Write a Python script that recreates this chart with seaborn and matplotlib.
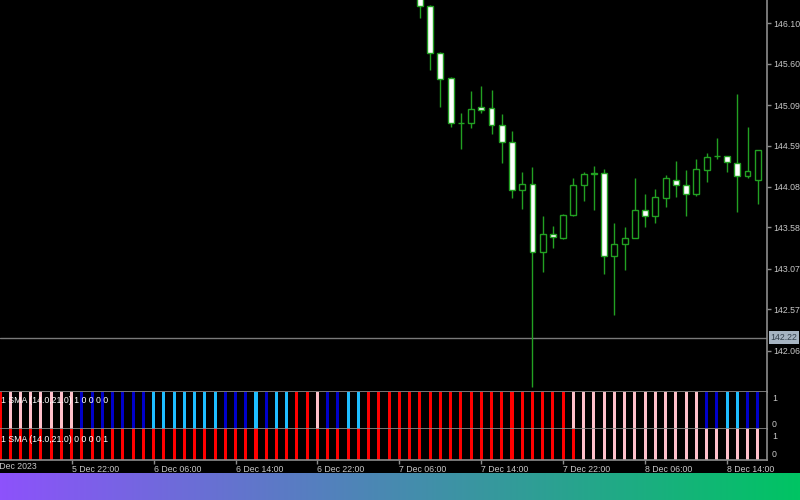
import numpy as np
import pandas as pd
import matplotlib
matplotlib.use("Agg")
import matplotlib.pyplot as plt
import matplotlib.transforms as mtransforms
import seaborn as sns

# H1 candles, bar 0 = 5 Dec 2023 15:00, only bars 41..74 are inside the price window
first_candle = 41
opens = [146.57, 146.31, 145.73, 145.42, 144.87, 144.87, 145.07, 145.05, 144.85, 144.64,
         144.04, 144.11, 143.28, 143.50, 143.45, 143.73, 144.10, 144.245, 144.25, 143.23,
         143.37, 143.45, 143.79, 143.72, 143.94, 144.17, 144.10, 143.99, 144.29, 144.46,
         144.46, 144.38, 144.21, 144.17]
highs = [146.65, 146.33, 145.74, 145.44, 144.99, 145.26, 145.33, 145.28, 144.98, 144.77,
         144.27, 144.33, 143.72, 143.60, 143.74, 144.19, 144.27, 144.34, 144.30, 143.64,
         143.58, 144.19, 143.99, 144.06, 144.23, 144.40, 144.29, 144.42, 144.50, 144.68,
         144.465, 145.23, 144.82, 144.53]
lows = [146.17, 145.52, 145.07, 144.82, 144.55, 144.81, 144.99, 144.73, 144.38, 143.94,
        143.81, 141.61, 143.03, 143.33, 143.44, 143.72, 143.90, 143.80, 143.00, 142.50,
        143.06, 143.45, 143.59, 143.63, 143.83, 143.96, 143.72, 143.97, 144.14, 144.43,
        144.26, 143.77, 144.19, 143.87]
closes = [146.31, 145.73, 145.41, 144.87, 144.865, 145.04, 145.03, 144.84, 144.64, 144.04,
          144.11, 143.28, 143.50, 143.46, 143.73, 144.10, 144.24, 144.25, 143.23, 143.38,
          143.45, 143.80, 143.72, 143.95, 144.19, 144.10, 143.99, 144.30, 144.45, 144.465,
          144.39, 144.21, 144.28, 144.53]

price_ticks = [146.10, 145.60, 145.09, 144.59, 144.08, 143.58, 143.07, 142.57, 142.06]
hline_price = 142.22

# indicator states per bar (R red, P pink, B blue, C light blue)
pane1_states = list("R" + "P" * 7 + "B" * 7 + "C" * 7 + "BBB" + "C" + "B" + "CC" + "RR" + "P"
                    + "BB" + "CC" + "R" * 20 + "P" * 13 + "BB" + "CC" + "BB")
pane2_states = list("R" * 57 + "P" * 18)
pane1_label = "1 SMA (14.0,21.0) 1 0 0 0 0"
pane2_label = "1 SMA (14.0,21.0) 0 0 0 0 1"

time_ticks = [7, 15, 23, 31, 39, 47, 55, 63, 71]
time_labels = ["5 Dec 22:00", "6 Dec 06:00", "6 Dec 14:00", "6 Dec 22:00", "7 Dec 06:00",
               "7 Dec 14:00", "7 Dec 22:00", "8 Dec 06:00", "8 Dec 14:00"]

state_colors = {"R": "#ff0000", "P": "#ffc0cb", "B": "#0000c8", "C": "#1ebeff"}

sns.set_style("dark", {"axes.facecolor": "black", "figure.facecolor": "black",
                       "axes.grid": False})
plt.rcParams["font.family"] = ["Liberation Sans", "DejaVu Sans"]

grey = "#8c8c8c"
txt = "#c8c8c8"
green = "#22a022"
fs = 6.3

fig = plt.figure(figsize=(8, 5), dpi=100)
W, H = 800.0, 500.0
axis_x = 767.3
main_bottom, p1_bottom, p2_bottom = 391.7, 429.3, 459.7

ax = fig.add_axes([0, 1 - main_bottom / H, axis_x / W, main_bottom / H])
ax1 = fig.add_axes([0, 1 - p1_bottom / H, axis_x / W, (p1_bottom - main_bottom) / H])
ax2 = fig.add_axes([0, 1 - p2_bottom / H, axis_x / W, (p2_bottom - p1_bottom) / H])

n_bars = len(pane1_states)
xmax = axis_x / 10.24

# candles
df = pd.DataFrame({"o": opens, "h": highs, "l": lows, "c": closes})
df["x"] = np.arange(first_candle, first_candle + len(df))
ax.vlines(df["x"], df["l"], df["h"], color=green, lw=1, zorder=2)
bull = df["c"] > df["o"]
body_lo = df[["o", "c"]].min(axis=1)
body_h = (df["c"] - df["o"]).abs().clip(lower=0.004)
ax.bar(df["x"], body_h, bottom=body_lo, width=0.58,
       color=np.where(bull, "black", "white"), edgecolor=green, linewidth=1, zorder=3)

ax.axhline(hline_price, color="#7a7a7a", lw=1, zorder=1)
ax.set_xlim(0, xmax)
ax.set_ylim(146.10 - (main_bottom - 23.3) / 81.0, 146.10 + 23.3 / 81.0)
ax.yaxis.tick_right()
ax.set_yticks(price_ticks)
ax.set_yticklabels([f"{v:.2f}" for v in price_ticks])
ax.tick_params(axis="y", colors=grey, labelcolor=txt, length=3, width=1, pad=1,
               labelsize=fs, direction="out", right=True, left=False)
ax.set_xticks([])
tr = mtransforms.blended_transform_factory(ax.transAxes, ax.transData)
ax.text(1.004, hline_price, f"{hline_price:.2f}", transform=tr, fontsize=fs,
        color="#33404c", va="center", ha="left",
        bbox=dict(facecolor="#a6b4c2", edgecolor="none", pad=1.2), zorder=5)

# indicator panes
for a, states, label in [(ax1, pane1_states, pane1_label), (ax2, pane2_states, pane2_label)]:
    d = pd.DataFrame({"bar": np.arange(n_bars), "value": 1.0, "state": states})
    sns.barplot(data=d, x="bar", y="value", hue="state", palette=state_colors,
                native_scale=True, dodge=False, width=0.3, saturation=1,
                errorbar=None, linewidth=0, legend=False, ax=a)
    a.set_xlim(0, xmax)
    a.set_ylim(0, 1)
    a.set_xlabel("")
    a.set_ylabel("")
    a.set_yticks([])
    a.text(0.001, 0.76 if a is ax1 else 0.68, label, transform=a.transAxes, color="white",
           fontsize=fs, va="center", ha="left", zorder=5)

ax1.text(1.006, 0.82, "1", transform=ax1.transAxes, color=txt, fontsize=fs, va="center")
ax1.text(1.006, 0.13, "0", transform=ax1.transAxes, color=txt, fontsize=fs, va="center")
ax2.text(1.006, 0.76, "1", transform=ax2.transAxes, color=txt, fontsize=fs, va="center")
ax2.text(1.006, 0.18, "0", transform=ax2.transAxes, color=txt, fontsize=fs, va="center")

ax1.set_xticks([])
ax2.set_xticks(time_ticks)
ax2.set_xticklabels(time_labels, ha="left")
ax2.tick_params(axis="x", colors=grey, labelcolor=txt, length=3, width=1, pad=0.5,
                labelsize=fs, direction="out", bottom=True)
fig.text(-8 / W, 1 - 466.7 / H, "5 Dec 2023", color=txt, fontsize=fs, va="center", ha="left")

for a in (ax, ax1, ax2):
    for s in ("left", "top"):
        a.spines[s].set_visible(False)
    for s in ("right", "bottom"):
        a.spines[s].set_visible(True)
        a.spines[s].set_color(grey)
        a.spines[s].set_linewidth(1.2)

# gradient strip at the bottom
gax = fig.add_axes([0, 0, 1, 27 / H])
left_c = np.array([141, 82, 251]) / 255
right_c = np.array([0, 196, 99]) / 255
t = np.linspace(0, 1, 400)[None, :, None]
grad = left_c * (1 - t) + right_c * t
gax.imshow(grad, aspect="auto", extent=(0, 1, 0, 1))
gax.set_axis_off()

fig.savefig("out.png", dpi=100, facecolor="black")
